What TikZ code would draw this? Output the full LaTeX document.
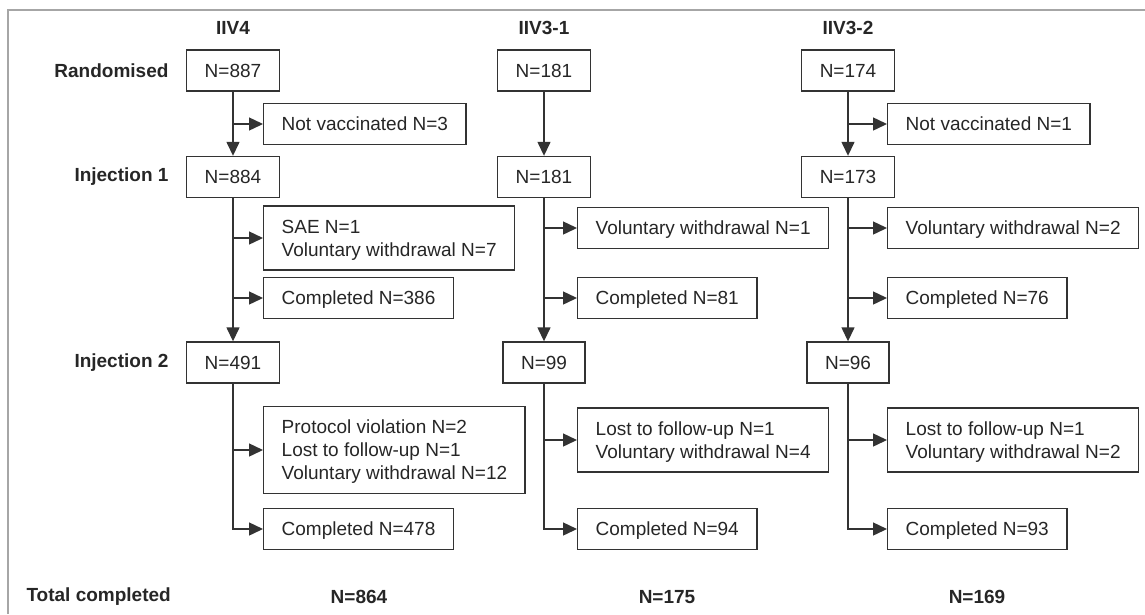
\documentclass[tikz,border=0pt]{standalone}
\usepackage{fontspec}
\setmainfont{Liberation Sans}
\usetikzlibrary{arrows.meta}

\tikzset{
   BoxStyle/.style={draw=black!80, line width=1.4pt, minimum height=41pt,
      inner xsep=18pt, inner ysep=13.7pt, text height=13.6pt, text depth=0pt,
      text=black!85, font=\fontsize{19}{23}\selectfont},
   SideStyle/.style={BoxStyle, anchor=west},
   TwoLine/.style={SideStyle, align=left, text height=36.6pt},
   ThreeLine/.style={SideStyle, align=left, text height=59.6pt},
   HeadStyle/.style={text=black!85, font=\fontsize{19}{23}\selectfont\bfseries},
   RowStyle/.style={HeadStyle, anchor=east},
   EdgeStyle/.style={draw=black!80, line width=1.4pt, -{Triangle[length=14pt,width=13pt]}}
}

\begin{document}
\begin{tikzpicture}[x=1pt, y=-1pt]
   \useasboundingbox (0,0) rectangle (1145,614);
   \draw[black!35, line width=2pt] (8,614) -- (8,10) -- (1145,10);

   % column heads and row labels
   \node[HeadStyle] (h1) at (233,28) {IIV4};
   \node[HeadStyle] (h2) at (544,28) {IIV3-1};
   \node[HeadStyle] (h3) at (848,28) {IIV3-2};
   \node[RowStyle] (lR) at (172,70.5) {Randomised};
   \node[RowStyle] (lI1) at (172,177) {Injection 1};
   \node[RowStyle] (lI2) at (172,362.5) {Injection 2};

   % IIV4
   \node[BoxStyle] (A0) at (233,70.5) {N=887};
   \node[BoxStyle] (A1) at (233,177) {N=884};
   \node[BoxStyle] (A2) at (233,362.5) {N=491};
   \node[SideStyle] (Anv) at (263,124) {Not vaccinated N=3};
   \node[TwoLine] (Aw1) at (263,238) {SAE N=1\\Voluntary withdrawal N=7};
   \node[SideStyle] (Ac1) at (263,298) {Completed N=386};
   \node[ThreeLine] (Aw2) at (263,450) {Protocol violation N=2\\Lost to follow-up N=1\\Voluntary withdrawal N=12};
   \node[SideStyle] (Ac2) at (263,529) {Completed N=478};

   % IIV3-1
   \node[BoxStyle] (B0) at (544,70.5) {N=181};
   \node[BoxStyle] (B1) at (544,177) {N=181};
   \node[BoxStyle] (B2) at (544,362.5) {N=99};
   \node[SideStyle] (Bw1) at (577,228) {Voluntary withdrawal N=1};
   \node[SideStyle] (Bc1) at (577,298) {Completed N=81};
   \node[TwoLine] (Bw2) at (577,440) {Lost to follow-up N=1\\Voluntary withdrawal N=4};
   \node[SideStyle] (Bc2) at (577,529) {Completed N=94};

   % IIV3-2
   \node[BoxStyle] (C0) at (848,70.5) {N=174};
   \node[BoxStyle] (C1) at (848,177) {N=173};
   \node[BoxStyle] (C2) at (848,362.5) {N=96};
   \node[SideStyle] (Cnv) at (887,124) {Not vaccinated N=1};
   \node[SideStyle] (Cw1) at (887,228) {Voluntary withdrawal N=2};
   \node[SideStyle] (Cc1) at (887,298) {Completed N=76};
   \node[TwoLine] (Cw2) at (887,440) {Lost to follow-up N=1\\Voluntary withdrawal N=2};
   \node[SideStyle] (Cc2) at (887,529) {Completed N=93};

   % totals
   \node[RowStyle, anchor=west] (lT) at (23,597) {Total completed};
   \node[RowStyle, anchor=center] (tA) at (359,597) {N=864};
   \node[RowStyle, anchor=center] (tB) at (667,597) {N=175};
   \node[RowStyle, anchor=center] (tC) at (977,597) {N=169};

   \draw[EdgeStyle] (A0) -- (A1);
   \draw[EdgeStyle] (A1) -- (A2);
   \draw[EdgeStyle] (A0 |- Anv.west) -- (Anv.west);
   \draw[EdgeStyle] (A1 |- Aw1.west) -- (Aw1.west);
   \draw[EdgeStyle] (A1 |- Ac1.west) -- (Ac1.west);
   \draw[EdgeStyle] (A2 |- Aw2.west) -- (Aw2.west);
   \draw[EdgeStyle] (A2.south) |- (Ac2.west);

   \draw[EdgeStyle] (B0) -- (B1);
   \draw[EdgeStyle] (B1) -- (B2);
   \draw[EdgeStyle] (B1 |- Bw1.west) -- (Bw1.west);
   \draw[EdgeStyle] (B1 |- Bc1.west) -- (Bc1.west);
   \draw[EdgeStyle] (B2 |- Bw2.west) -- (Bw2.west);
   \draw[EdgeStyle] (B2.south) |- (Bc2.west);

   \draw[EdgeStyle] (C0) -- (C1);
   \draw[EdgeStyle] (C1) -- (C2);
   \draw[EdgeStyle] (C0 |- Cnv.west) -- (Cnv.west);
   \draw[EdgeStyle] (C1 |- Cw1.west) -- (Cw1.west);
   \draw[EdgeStyle] (C1 |- Cc1.west) -- (Cc1.west);
   \draw[EdgeStyle] (C2 |- Cw2.west) -- (Cw2.west);
   \draw[EdgeStyle] (C2.south) |- (Cc2.west);
\end{tikzpicture}
\end{document}
